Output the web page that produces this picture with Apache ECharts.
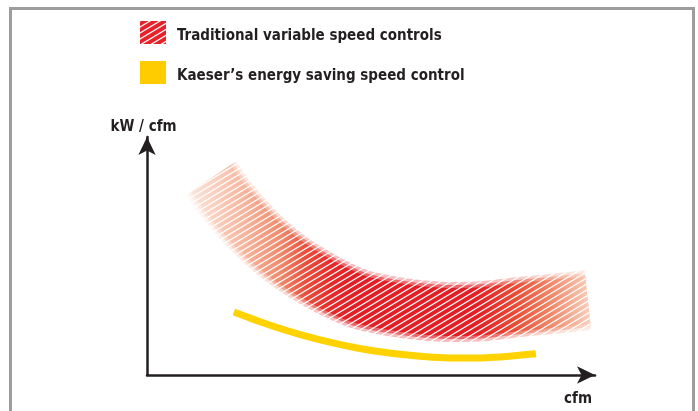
<!DOCTYPE html>
<html>
<head>
<meta charset="utf-8">
<script src="https://cdn.jsdelivr.net/npm/echarts@6/dist/echarts.min.js"></script>
<style>
  html, body { margin: 0; padding: 0; background: #fff; }
  #chart { width: 698px; height: 411px; }
</style>
</head>
<body>
<div id="chart"></div>
<script>
// values (axes carry no ticks, units are arbitrary 0..100)
var seriesNames = ['Traditional variable speed controls', 'Kaeser\u2019s energy saving speed control'];
var axisNames = ['cfm', 'kW / cfm'];

var traditionalX = [14.3, 17.4, 20.8, 24.3, 27.9, 31.9, 35.3, 40.8, 47.3, 54.2, 60.9, 68.3, 75.4, 83.3, 90.0, 98.4];
var traditionalY = [82.8, 74.4, 66.8, 59.7, 53.4, 47.5, 43.3, 37.4, 31.9, 29.0, 27.3, 26.5, 26.9, 28.6, 29.8, 31.5];

var kaeserX = [19.4, 27.5, 34.2, 42.0, 49.1, 56.5, 63.8, 71.0, 78.8, 86.8];
var kaeserY = [26.5, 20.9, 17.0, 13.3, 10.6, 8.7, 7.5, 7.1, 7.6, 8.9];

function pairs(xs, ys) {
  return xs.map(function (x, i) { return [x, ys[i]]; });
}

// white diagonal hatching, optionally on a coloured ground
function hatch(bg) {
  var c = document.createElement('canvas');
  c.width = 10; c.height = 6;
  var ctx = c.getContext('2d');
  if (bg) { ctx.fillStyle = bg; ctx.fillRect(0, 0, 10, 6); }
  ctx.strokeStyle = '#ffffff';
  ctx.lineWidth = 1.2;
  [-6, 0, 6].forEach(function (o) {
    ctx.beginPath();
    ctx.moveTo(-10, 12 + o);
    ctx.lineTo(20, -6 + o);
    ctx.stroke();
  });
  return c;
}

var bandGradient = new echarts.graphic.LinearGradient(0, 0, 1, 0, [
  { offset: 0.00, color: 'rgba(250,220,208,0.4)' },
  { offset: 0.06, color: '#fad3c3' },
  { offset: 0.14, color: '#f6b39b' },
  { offset: 0.22, color: '#f08a6c' },
  { offset: 0.28, color: '#ea4e3c' },
  { offset: 0.34, color: '#e52a2a' },
  { offset: 0.39, color: '#e31e24' },
  { offset: 0.68, color: '#e31e24' },
  { offset: 0.77, color: '#ea4a34' },
  { offset: 0.85, color: '#f08262' },
  { offset: 0.92, color: '#f6b9a2' },
  { offset: 1.00, color: 'rgba(252,228,220,0.1)' }
]);

var bandData = pairs(traditionalX, traditionalY);
var kaeserData = pairs(kaeserX, kaeserY);

// a few stacked strokes give the band its soft edges
var bandLayers = [
  { width: 60, opacity: 0.3 },
  { width: 54, opacity: 0.55 },
  { width: 48, opacity: 1 }
];

var series = [
  // empty bars only feed the legend its square icons
  { type: 'bar', name: seriesNames[0], data: [], itemStyle: { color: { image: hatch('#e8202a'), repeat: 'repeat' } } },
  { type: 'bar', name: seriesNames[1], data: [], itemStyle: { color: '#ffcc00' } }
];

bandLayers.forEach(function (l) {
  series.push({
    type: 'line', name: seriesNames[0], data: bandData,
    smooth: 0.3, showSymbol: false, clip: false, silent: true,
    lineStyle: { width: l.width, opacity: l.opacity, color: bandGradient, cap: 'butt' }
  });
});

series.push({
  type: 'line', name: seriesNames[0], data: bandData,
  smooth: 0.3, showSymbol: false, clip: false, silent: true,
  lineStyle: { width: 62, color: { image: hatch(), repeat: 'repeat' }, cap: 'butt' }
});

series.push({
  type: 'line', name: seriesNames[1], data: kaeserData,
  smooth: 0.3, showSymbol: false, clip: false, silent: true,
  lineStyle: { width: 7, color: '#ffd200', cap: 'butt' },
  itemStyle: { color: '#ffd200' }
});

var textFont = "'Liberation Sans Narrow', 'DejaVu Sans Condensed', 'Roboto', sans-serif";

var myChart = echarts.init(document.getElementById('chart'));

var option = {
  animation: false,
  backgroundColor: '#ffffff',
  graphic: [{
    type: 'rect',
    shape: { x: 10.5, y: 8.5, width: 683, height: 430 },
    style: { fill: 'none', stroke: '#9d9d9f', lineWidth: 3 },
    silent: true
  }],
  legend: {
    data: seriesNames,
    orient: 'vertical',
    left: 140,
    top: 21,
    padding: 0,
    icon: 'rect',
    itemWidth: 26,
    itemHeight: 23,
    itemGap: 17,
    formatter: function (name) { return '{a|' + name + '}'; },
    textStyle: {
      color: '#231f20', fontSize: 15, fontWeight: 'bold', fontFamily: textFont,
      rich: {
        a: {
          color: '#231f20', fontSize: 15, fontWeight: 'bold', fontFamily: textFont,
          padding: [7, 0, 0, 6]
        }
      }
    }
  },
  grid: { left: 147, right: 103, top: 137, bottom: 36 },
  xAxis: {
    type: 'value', min: 0, max: 100,
    name: axisNames[0], nameLocation: 'end', nameGap: 0,
    nameTextStyle: {
      color: '#231f20', fontSize: 15, fontWeight: 'bold', fontFamily: textFont,
      align: 'right', verticalAlign: 'top', padding: [17, 3, 0, 0]
    },
    axisLine: { lineStyle: { color: '#231f20', width: 2.5 }, symbol: ['none', 'arrow'], symbolSize: [13, 18] },
    axisTick: { show: false }, axisLabel: { show: false }, splitLine: { show: false }
  },
  yAxis: {
    type: 'value', min: 0, max: 100,
    name: axisNames[1], nameLocation: 'end', nameGap: 2,
    nameTextStyle: {
      color: '#231f20', fontSize: 15, fontWeight: 'bold', fontFamily: textFont,
      align: 'center', padding: [0, 7, 0, 0]
    },
    axisLine: { lineStyle: { color: '#231f20', width: 2.5 }, symbol: ['none', 'arrow'], symbolSize: [13, 18] },
    axisTick: { show: false }, axisLabel: { show: false }, splitLine: { show: false }
  },
  series: series
};

option && myChart.setOption(option);
</script>
</body>
</html>
